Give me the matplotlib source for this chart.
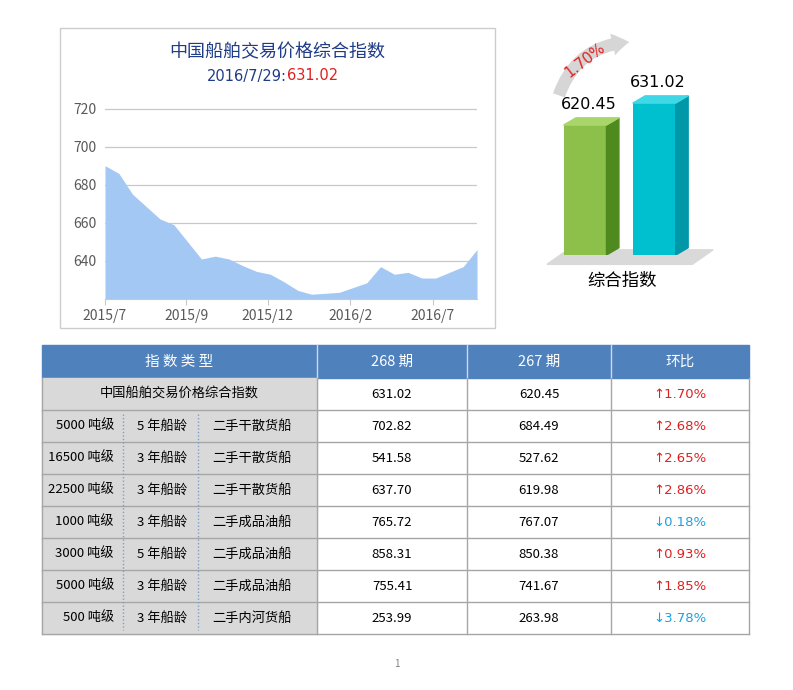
import matplotlib
matplotlib.use("Agg")
import matplotlib.pyplot as plt
from matplotlib.patches import Rectangle, Polygon

plt.rcParams['font.family'] = ['Noto Sans CJK SC', 'DejaVu Sans']

# area chart data (composite index)
index_values = [690, 686, 675, 668.5, 662, 659, 650, 641, 642.5, 641, 637.5, 634.5, 633, 629,
                624.5, 622.5, 623, 623.5, 626, 628.5, 637, 633, 634, 631, 631, 634, 637, 646]
tick_pos = [0, 5.9, 11.8, 17.8, 23.8]
tick_labels = ['2015/7', '2015/9', '2015/12', '2016/2', '2016/7']

# bar data
bar_values = [620.45, 631.02]
bar_change = '1.70%'

# table data
tonnage = ['5000 吨级', '16500 吨级', '22500 吨级', '1000 吨级', '3000 吨级', '5000 吨级', '500 吨级']
ages = ['5 年船龄', '3 年船龄', '3 年船龄', '3 年船龄', '5 年船龄', '3 年船龄', '3 年船龄']
ship_types = ['二手干散货船', '二手干散货船', '二手干散货船', '二手成品油船', '二手成品油船', '二手成品油船', '二手内河货船']
period_268 = ['631.02', '702.82', '541.58', '637.70', '765.72', '858.31', '755.41', '253.99']
period_267 = ['620.45', '684.49', '527.62', '619.98', '767.07', '850.38', '741.67', '263.98']
changes = [1.70, 2.68, 2.65, 2.86, -0.18, 0.93, 1.85, -3.78]

W, H = 793, 690
fig = plt.figure(figsize=(W / 100, H / 100), dpi=100)

def px_axes(x0, y0, x1, y1):
    return fig.add_axes([x0 / W, 1 - y1 / H, (x1 - x0) / W, (y1 - y0) / H])

# background overlay axes in pixel coords
bg = fig.add_axes([0, 0, 1, 1])
bg.set_xlim(0, W)
bg.set_ylim(H, 0)
bg.axis('off')
bg.add_patch(Rectangle((60, 28), 435, 300, fill=False, ec='#cccccc', lw=1))
bg.text(277, 52, '中国船舶交易价格综合指数', ha='center', va='center', fontsize=13, color='#1f3c88')
bg.text(287, 76, '2016/7/29:', ha='right', va='center', fontsize=10.5, color='#1f3c88', family='DejaVu Sans')
bg.text(287, 76, '631.02', ha='left', va='center', fontsize=10.5, color='#e02020', family='DejaVu Sans')

# area chart
ax = px_axes(105, 100, 477, 299)
x = list(range(len(index_values)))
ax.fill_between(x, index_values, 620, color='#a4c8f4', lw=0)
ax.set_xlim(0, len(index_values) - 1)
ax.set_ylim(620, 724.5)
ax.set_yticks([640, 660, 680, 700, 720])
ax.set_xticks(tick_pos)
ax.set_xticklabels(tick_labels)
ax.grid(axis='y', color='#c8c8c8', lw=0.9)
ax.set_axisbelow(True)
for s in ['top', 'right', 'left']:
    ax.spines[s].set_visible(False)
ax.spines['bottom'].set_color('#c8c8c8')
ax.tick_params(axis='y', length=0, labelsize=10, colors='#595959', pad=6)
ax.tick_params(axis='x', length=4, color='#c8c8c8', labelsize=10, colors='#595959')
ax.set_facecolor('none')

# 3D bars
bx = px_axes(540, 60, 720, 255)
bmin = 558.0
bx.set_ylim(bmin, bmin + 195 / 2.08)
bx.set_xlim(-0.65, 1.95)
bx.axis('off')
front = ['#8cc04a', '#00c0d0']
side = ['#4e8a1e', '#0097a8']
top = ['#a8d66a', '#40d8e6']
bw, dx, dy = 0.62, 0.18, 3.5
# floor shadow
bx.add_patch(Polygon([(-0.55, bmin - 4.5), (1.55, bmin - 4.5), (1.85, bmin + 2.5), (-0.25, bmin + 2.5)],
                     closed=True, color='#d9d9d9', clip_on=False, zorder=0))
for i, v in enumerate(bar_values):
    l, r = i - bw / 2, i + bw / 2
    bx.bar(i, v - bmin, bottom=bmin, width=bw, color=front[i], zorder=2)
    bx.add_patch(Polygon([(r, bmin), (r + dx, bmin + dy), (r + dx, v + dy), (r, v)], color=side[i], zorder=2))
    bx.add_patch(Polygon([(l, v), (r, v), (r + dx, v + dy), (l + dx, v + dy)], color=top[i], zorder=2))
    bx.text(i + 0.05, v + dy + 3, f'{v:.2f}', ha='center', va='bottom', fontsize=11.5, family='DejaVu Sans')

bg.text(622, 281, '综合指数', ha='center', va='center', fontsize=12.5)
bg.annotate('', xy=(632, 42), xytext=(558, 98),
            arrowprops=dict(arrowstyle='simple,head_width=1.6,head_length=1.2,tail_width=0.9',
                            connectionstyle='arc3,rad=-0.35', color='#d6d6d6', lw=0))
bg.text(585, 60, bar_change, ha='center', va='center', fontsize=10.5, color='#e02020',
        rotation=38, family='DejaVu Sans')

# table
cols = [42, 317, 467, 611, 749]
head_top, head_bot = 345, 378
rh = 32
bg.add_patch(Rectangle((cols[0], head_top), cols[-1] - cols[0], head_bot - head_top, color='#4f81bd'))
headers = ['指 数 类 型', '268 期', '267 期', '环比']
for j, h in enumerate(headers):
    bg.text((cols[j] + cols[j + 1]) / 2, (head_top + head_bot) / 2, h, ha='center', va='center',
            fontsize=10.5, color='white')
for c in cols[1:-1]:
    bg.plot([c, c], [head_top, head_bot], color='#d0d8e8', lw=1)

n_rows = len(period_268)
for i in range(n_rows):
    y0 = head_bot + i * rh
    yc = y0 + rh / 2
    bg.add_patch(Rectangle((cols[0], y0), cols[1] - cols[0], rh, color='#d9d9d9'))
    bg.plot([cols[0], cols[-1]], [y0 + rh, y0 + rh], color='#a6a6a6', lw=1)
    if i == 0:
        bg.text((cols[0] + cols[1]) / 2, yc, '中国船舶交易价格综合指数', ha='center', va='center', fontsize=9.5)
    else:
        bg.text(114, yc, tonnage[i - 1], ha='right', va='center', fontsize=9.5)
        bg.text(162, yc, ages[i - 1], ha='center', va='center', fontsize=9.5)
        bg.text(252, yc, ship_types[i - 1], ha='center', va='center', fontsize=9.5)
    bg.text((cols[1] + cols[2]) / 2, yc, period_268[i], ha='center', va='center', fontsize=9.5)
    bg.text((cols[2] + cols[3]) / 2, yc, period_267[i], ha='center', va='center', fontsize=9.5)
    ch = changes[i]
    arrow = '↑' if ch >= 0 else '↓'
    color = '#e02020' if ch >= 0 else '#1fa0e0'
    bg.text((cols[3] + cols[4]) / 2, yc, f'{arrow}{abs(ch):.2f}%', ha='center', va='center',
            fontsize=9.5, color=color, family='DejaVu Sans')

tbl_bot = head_bot + n_rows * rh
for c in cols:
    bg.plot([c, c], [head_bot, tbl_bot], color='#a6a6a6', lw=1)
for c in [123, 198]:
    bg.plot([c, c], [head_bot + rh + 4, tbl_bot - 4], color='#7f9fc8', lw=1, ls=(0, (1, 1.5)))

bg.text(397, 664, '1', ha='center', va='center', fontsize=7, color='#808080')

fig.savefig('out.png', dpi=100)
